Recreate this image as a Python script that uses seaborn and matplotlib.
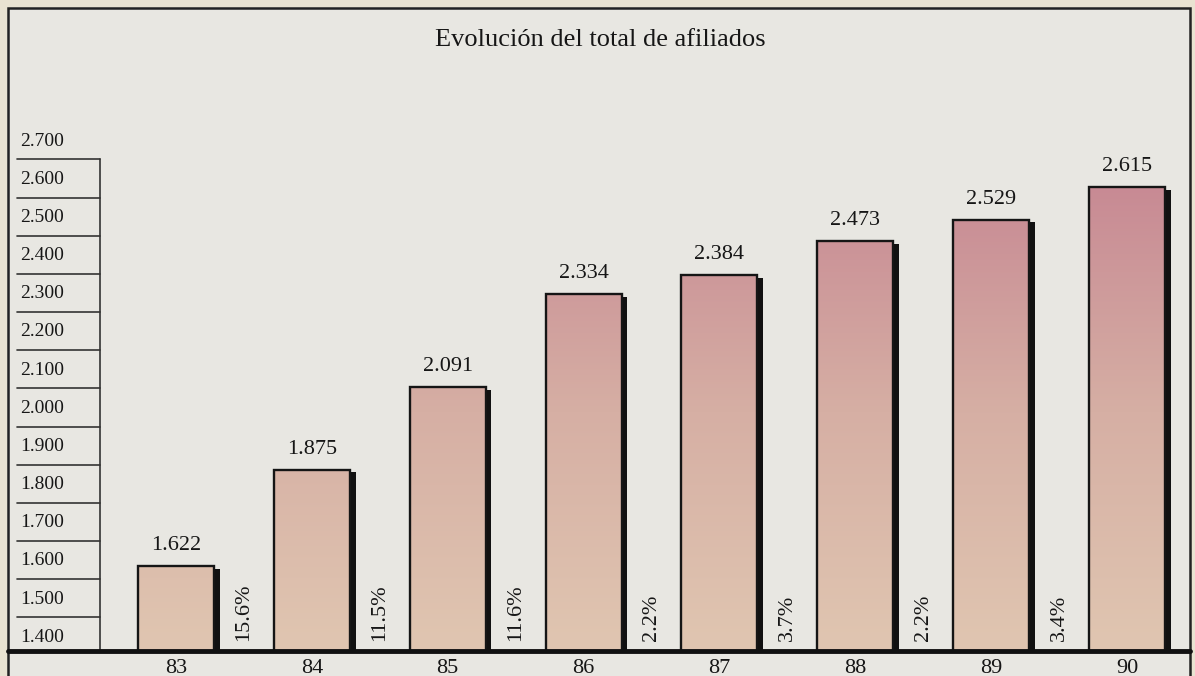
import numpy as np
import pandas as pd
import matplotlib
matplotlib.use("Agg")
import matplotlib.pyplot as plt
from matplotlib.patches import Rectangle
from matplotlib.colors import LinearSegmentedColormap
import seaborn as sns

# data (afiliados, thousands)
years = ["83", "84", "85", "86", "87", "88", "89", "90"]
totals = [1622, 1875, 2091, 2334, 2384, 2473, 2529, 2615]
growth = [15.6, 11.5, 11.6, 2.2, 3.7, 2.2, 3.4]
y_ticks = [1400, 1500, 1600, 1700, 1800, 1900, 2000, 2100, 2200, 2300, 2400, 2500, 2600, 2700]

W, H = 1195, 676
page = "#e9e3d1"
paper = "#e8e7e2"
ink = "#161616"
serif = ["Liberation Serif", "DejaVu Serif"]

sns.set_theme(style="white")
plt.rcParams["font.family"] = serif

fig = plt.figure(figsize=(W / 100, H / 100), dpi=100, facecolor=page)

# outer frame of the printed chart
fig.add_artist(Rectangle((8 / W, -0.05), 1182 / W, 1.05 - 8 / H, transform=fig.transFigure,
                         facecolor=paper, edgecolor="#222222", lw=1.8, zorder=-1))

ax = fig.add_axes([8 / W, 25 / H, 1182 / W, 643 / H])
ax.set_facecolor("none")

df = pd.DataFrame({"year": years, "total": totals})
sns.barplot(data=df, x="year", y="total", width=0.56, color="white", ax=ax, zorder=3)

for s in ax.spines.values():
    s.set_visible(False)
ax.set_yticks([])
ax.set_xlabel("")
ax.set_ylabel("")
ax.tick_params(axis="x", length=0, pad=6, labelsize=16, labelcolor=ink)

# vertical gradient tan -> pink, shared by all bars
cmap = LinearSegmentedColormap.from_list("afil", ["#e0c6b1", "#d6afa4", "#c78893"])
grad = np.linspace(0, 1, 256).reshape(-1, 1)

for bar, v in zip(ax.patches, totals):
    x, w = bar.get_x(), bar.get_width()
    bar.set_facecolor("none")
    bar.set_edgecolor("#151515")
    bar.set_linewidth(1.7)
    im = ax.imshow(grad, cmap=cmap, origin="lower", aspect="auto",
                   extent=[x, x + w, 1400, 2650], zorder=2)
    im.set_clip_path(bar)
    # drop shadow on the right
    ax.add_patch(Rectangle((x + w - 0.005, 1400), 0.047, v - 1400 - 6,
                           facecolor="#111111", edgecolor="none", zorder=1))
    ax.annotate(f"{v:,}".replace(",", "."), (x + w / 2, v), xytext=(0, 8),
                textcoords="offset points", ha="center", va="bottom", fontsize=16,
                color=ink)

ax.set_xlim(-1.2366, 7.4636)
ax.set_ylim(1400, 3084.6)

# yearly growth, written vertically between the bars
for i, g in enumerate(growth):
    ax.text(i + 0.5, 1426, f"{g}%", rotation=90, ha="center", va="bottom",
            fontsize=16, color=ink)

# baseline
ax.axhline(1400, color="#111111", lw=3.5, zorder=4, clip_on=False)

# hand-drawn y scale column
yt = ax.get_yaxis_transform()
for v in y_ticks[1:]:
    ax.plot([0.0076, 0.0778], [v - 12, v - 12], transform=yt, color="#333333", lw=1.2,
            clip_on=False)
ax.plot([0.0778, 0.0778], [1400, y_ticks[-1] - 12], transform=yt, color="#333333", lw=1.2)
for v in y_ticks:
    ax.text(0.0102, v + 36, f"{v:,}".replace(",", "."), transform=yt, ha="left",
            va="center", fontsize=14, color=ink)

fig.text(0.502, 1 - 40 / H, "Evolución del total de afiliados", ha="center", va="center",
         fontsize=19, color=ink)

fig.savefig("out.png", dpi=100, facecolor=page)
